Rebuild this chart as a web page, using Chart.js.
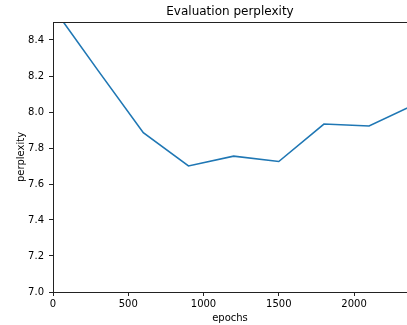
<!DOCTYPE html>
<html>
<head>
<meta charset="utf-8">
<script src="https://cdn.jsdelivr.net/npm/chart.js@4"></script>
<style>
  html, body { margin: 0; padding: 0; background: #fff; }
  canvas { display: block; }
</style>
</head>
<body>
<canvas id="c" width="407" height="325"></canvas>
<script>
const epochs = [0, 300, 600, 900, 1200, 1500, 1800, 2100, 2400];
const perplexity = [8.58, 8.23, 7.885, 7.70, 7.755, 7.725, 7.933, 7.922, 8.04];
const xTicks = [0, 500, 1000, 1500, 2000];
const yTicks = [7.0, 7.2, 7.4, 7.6, 7.8, 8.0, 8.2, 8.4];

const FONT = "'DejaVu Sans', sans-serif";
const AXIS = '#222';

const topSpine = {
  id: 'topSpine',
  afterDraw(chart) {
    const {ctx, chartArea} = chart;
    ctx.save();
    ctx.strokeStyle = AXIS;
    ctx.lineWidth = 1;
    ctx.beginPath();
    ctx.moveTo(chartArea.left, Math.round(chartArea.top) + 0.5);
    ctx.lineTo(chartArea.right + 1, Math.round(chartArea.top) + 0.5);
    ctx.stroke();
    ctx.restore();
  }
};

new Chart(document.getElementById('c'), {
  type: 'line',
  data: {
    datasets: [{
      data: epochs.map((e, i) => ({x: e, y: perplexity[i]})),
      borderColor: '#1f77b4',
      borderWidth: 1.6,
      pointRadius: 0,
      tension: 0,
      fill: false,
      clip: 0
    }]
  },
  options: {
    responsive: false,
    animation: false,
    devicePixelRatio: 1,
    layout: { padding: 0 },
    plugins: {
      legend: { display: false },
      tooltip: { enabled: false },
      title: {
        display: true,
        text: 'Evaluation perplexity',
        fullSize: false,
        color: '#000',
        font: { family: FONT, size: 12, weight: 'normal' },
        padding: { top: 5, bottom: 2.6 }
      }
    },
    scales: {
      x: {
        type: 'linear',
        min: 0,
        max: 2352,
        afterBuildTicks: s => { s.ticks = xTicks.map(v => ({value: v})); },
        afterFit: s => { s.height = 33; },
        grid: { drawOnChartArea: false, drawTicks: true, tickLength: 4, color: AXIS, tickWidth: 1 },
        border: { display: true, color: AXIS, width: 1 },
        ticks: {
          color: '#000',
          font: { family: FONT, size: 10 },
          padding: 2,
          maxRotation: 0,
          callback: v => String(v)
        },
        title: {
          display: true,
          text: 'epochs',
          color: '#000',
          font: { family: FONT, size: 10 },
          padding: { top: 0, bottom: 1 }
        }
      },
      y: {
        type: 'linear',
        min: 7.0,
        max: 8.5,
        afterBuildTicks: s => { s.ticks = yTicks.map(v => ({value: v})); },
        afterFit: s => { s.width = 53; },
        grid: { drawOnChartArea: false, drawTicks: true, tickLength: 4, color: AXIS, tickWidth: 1 },
        border: { display: true, color: AXIS, width: 1 },
        ticks: {
          color: '#000',
          font: { family: FONT, size: 10 },
          padding: 5,
          callback: v => Number(v).toFixed(1)
        },
        title: {
          display: true,
          text: 'perplexity',
          color: '#000',
          font: { family: FONT, size: 10 },
          padding: { top: 15, bottom: 0 }
        }
      }
    }
  },
  plugins: [topSpine]
});
</script>
</body>
</html>
